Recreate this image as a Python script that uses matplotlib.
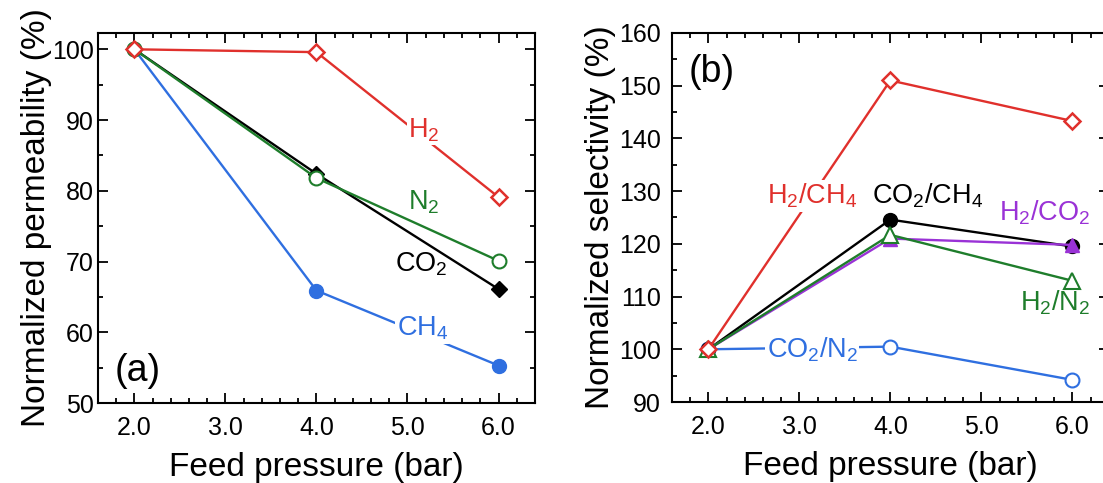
import matplotlib
matplotlib.use("Agg")
import matplotlib.pyplot as plt
from matplotlib.ticker import MultipleLocator, FormatStrFormatter

plt.rcParams['font.family'] = ['Liberation Sans', 'DejaVu Sans']
plt.rcParams['mathtext.fontset'] = 'custom'
plt.rcParams['mathtext.rm'] = 'Liberation Sans'
plt.rcParams['mathtext.it'] = 'Liberation Sans'
plt.rcParams['mathtext.default'] = 'regular'

# feed pressure (bar)
pressure = [2.0, 4.0, 6.0]

# (a) normalized permeability (%)
perm_h2 = [100.0, 99.6, 79.1]
perm_n2 = [100.0, 81.8, 70.1]
perm_co2 = [100.0, 82.4, 66.1]
perm_ch4 = [100.0, 65.9, 55.3]

# (b) normalized selectivity (%)
sel_h2_ch4 = [100.0, 151.0, 143.3]
sel_co2_ch4 = [100.0, 124.6, 119.5]
sel_h2_co2 = [100.0, 121.0, 119.8]
sel_h2_n2 = [100.0, 121.7, 113.0]
sel_co2_n2 = [100.0, 100.5, 94.2]

RED = '#e0302c'
GREEN = '#1e7d2b'
BLUE = '#2f6fe0'
BLACK = '#000000'
PURPLE = '#9a32d6'

LBL = 19.5
LW = 1.7


def style_axes(ax, ylim, ymajor):
    ax.set_xlim(1.6, 6.4)
    ax.set_ylim(*ylim)
    ax.xaxis.set_major_locator(MultipleLocator(1.0))
    ax.xaxis.set_minor_locator(MultipleLocator(0.2))
    ax.xaxis.set_major_formatter(FormatStrFormatter('%.1f'))
    ax.yaxis.set_major_locator(MultipleLocator(ymajor))
    ax.yaxis.set_minor_locator(MultipleLocator(ymajor / 2))
    ax.tick_params(which='both', direction='in', top=True, right=True,
                   width=1.3, labelsize=18)
    ax.tick_params(which='major', length=7)
    ax.tick_params(which='minor', length=3.5)
    ax.tick_params(axis='x', which='major', pad=9)
    ax.set_xlabel('Feed pressure (bar)', fontsize=24, labelpad=9)
    for s in ax.spines.values():
        s.set_linewidth(1.5)


def label(ax, x, y, s, color, cut=False):
    # cut=True blanks the line running underneath the label
    box = dict(fc='white', ec='none', pad=1.0) if cut else None
    ax.text(x, y, s, color=color, fontsize=LBL, ha='left', va='baseline',
            bbox=box, zorder=4)


fig = plt.figure(figsize=(11.03, 4.83), dpi=100)
ax1 = fig.add_axes([0.0888, 0.1656, 0.3962, 0.766])
ax2 = fig.add_axes([0.6092, 0.1677, 0.396, 0.764])

# ---- (a) permeability
ax1.plot(pressure, perm_ch4, '-o', color=BLUE, lw=LW, ms=10, zorder=2)
ax1.plot(pressure, perm_co2, '-D', color=BLACK, lw=LW, ms=8, zorder=2)
ax1.plot(pressure, perm_n2, '-o', color=GREEN, lw=LW, ms=10,
         mfc='white', mew=1.5, zorder=2)
ax1.plot(pressure, perm_h2, '-D', color=RED, lw=LW, ms=8.5,
         mfc='white', mew=1.8, zorder=2)

label(ax1, 5.01, 87.6, r'H$_2$', RED, cut=True)
label(ax1, 5.01, 77.3, r'N$_2$', GREEN)
label(ax1, 4.86, 68.6, r'CO$_2$', BLACK)
label(ax1, 4.88, 59.5, r'CH$_4$', BLUE, cut=True)
ax1.text(1.78, 54.5, '(a)', fontsize=27, ha='left', va='center')

style_axes(ax1, (50, 102.3), 10)
ax1.tick_params(axis='y', which='major', pad=3)
ax1.set_ylabel('Normalized permeability (%)', fontsize=24, labelpad=0)

# ---- (b) selectivity
ax2.plot(pressure, sel_co2_n2, '-o', color=BLUE, lw=LW, ms=10,
         mfc='white', mew=1.5, zorder=2)
ax2.plot(pressure, sel_co2_ch4, '-o', color=BLACK, lw=LW, ms=10, zorder=2)
ax2.plot(pressure, sel_h2_co2, '-^', color=PURPLE, lw=LW, ms=10, zorder=2)
ax2.plot(pressure, sel_h2_n2, '-^', color=GREEN, lw=LW, ms=11,
         mfc='white', mew=1.5, zorder=2)
ax2.plot(pressure, sel_h2_ch4, '-D', color=RED, lw=LW, ms=8.5,
         mfc='white', mew=1.8, zorder=2)

label(ax2, 2.64, 127.6, r'H$_2$/CH$_4$', RED, cut=True)
label(ax2, 3.80, 127.6, r'CO$_2$/CH$_4$', BLACK)
label(ax2, 5.19, 124.5, r'H$_2$/CO$_2$', PURPLE)
label(ax2, 5.43, 107.4, r'H$_2$/N$_2$', GREEN)
label(ax2, 2.64, 98.5, r'CO$_2$/N$_2$', BLUE, cut=True)
ax2.text(1.78, 152.6, '(b)', fontsize=27, ha='left', va='center')

style_axes(ax2, (90, 160), 10)
ax2.tick_params(axis='y', which='major', pad=8)
ax2.set_ylabel('Normalized selectivity (%)', fontsize=24, labelpad=2)

fig.savefig('out.png', dpi=100)
